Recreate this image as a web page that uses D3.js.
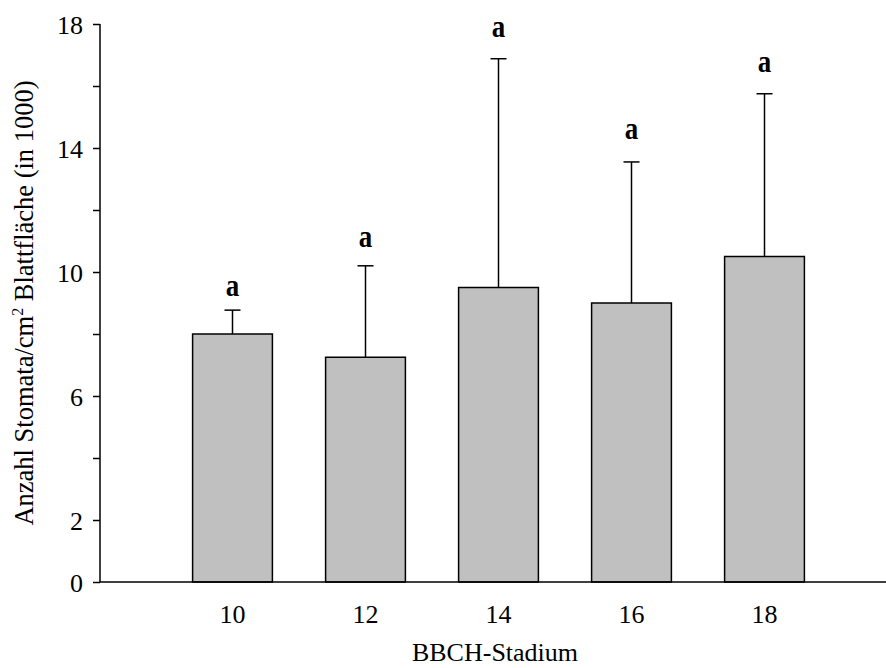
<!DOCTYPE html>
<html>
<head>
<meta charset="utf-8">
<script src="https://cdn.jsdelivr.net/npm/d3@7"></script>
<style>
  body { margin: 0; background: #fff; }
  text { font-family: "Liberation Serif", "Times New Roman", serif; fill: #000; }
</style>
</head>
<body>
<div id="plot"></div>
<script>
// BBCH stages and stomata counts (x1000 per cm2)
const stages = ["10", "12", "14", "16", "18"];
const means = [8.0, 7.25, 9.5, 9.0, 10.5];
const upperErr = [8.77, 10.2, 16.88, 13.55, 15.75];
const letters = ["a", "a", "a", "a", "a"];
const letterLevel = [9.22, 10.82, 17.57, 14.3, 16.45];
const yTicks = [0, 2, 4, 6, 8, 10, 12, 14, 16, 18];
const yLabeled = [0, 2, 6, 10, 14, 18];

const width = 886, height = 668;

const svg = d3.select("#plot").append("svg")
    .attr("width", width)
    .attr("height", height);

const y = d3.scaleLinear().domain([0, 18]).range([582, 24]);
const x = d3.scaleBand()
    .domain(stages)
    .range([166, 831])
    .paddingInner(0.4)
    .paddingOuter(0.2);

// bars
svg.append("g").selectAll("rect")
    .data(means)
    .join("rect")
    .attr("x", (d, i) => x(stages[i]))
    .attr("y", d => y(d))
    .attr("width", x.bandwidth())
    .attr("height", d => y(0) - y(d))
    .attr("fill", "#c0c0c0")
    .attr("stroke", "#000")
    .attr("stroke-width", 1.5);

// upper error whiskers
const err = svg.append("g").attr("stroke", "#000").attr("stroke-width", 1.5);
upperErr.forEach((e, i) => {
    const cx = x(stages[i]) + x.bandwidth() / 2;
    err.append("line")
        .attr("x1", cx).attr("x2", cx)
        .attr("y1", y(means[i])).attr("y2", y(e));
    err.append("line")
        .attr("x1", cx - 8).attr("x2", cx + 8)
        .attr("y1", y(e)).attr("y2", y(e));
});

// significance letters (slightly stretched vertically like the original)
svg.append("g").selectAll("text")
    .data(letters)
    .join("text")
    .attr("transform", (d, i) =>
        `translate(${x(stages[i]) + x.bandwidth() / 2},${y(letterLevel[i])}) scale(1,1.2)`)
    .attr("text-anchor", "middle")
    .attr("font-size", 27)
    .attr("font-weight", "bold")
    .text(d => d);

// y axis
const yAxis = svg.append("g")
    .attr("transform", "translate(100,0)")
    .call(d3.axisLeft(y)
        .tickValues(yTicks)
        .tickSize(7)
        .tickPadding(10)
        .tickFormat(d => yLabeled.includes(d) ? d : ""));
yAxis.select(".domain").remove();
yAxis.selectAll("line").attr("stroke", "#000").attr("stroke-width", 1.5);
yAxis.selectAll("text")
    .attr("font-size", 26)
    .attr("font-family", "Liberation Serif")
    .attr("dy", "0.36em");
yAxis.append("line")
    .attr("x1", 0).attr("x2", 0)
    .attr("y1", y(18)).attr("y2", y(0))
    .attr("stroke", "#000").attr("stroke-width", 1.5);

// x axis
svg.append("line")
    .attr("x1", 100).attr("x2", width)
    .attr("y1", y(0)).attr("y2", y(0))
    .attr("stroke", "#000").attr("stroke-width", 1.5);

svg.append("g").selectAll("text")
    .data(stages)
    .join("text")
    .attr("x", d => x(d) + x.bandwidth() / 2)
    .attr("y", 622.5)
    .attr("text-anchor", "middle")
    .attr("font-size", 26)
    .text(d => d);

// axis titles
svg.append("text")
    .attr("x", 495)
    .attr("y", 661)
    .attr("text-anchor", "middle")
    .attr("font-size", 26)
    .text("BBCH-Stadium");

const yTitle = svg.append("text")
    .attr("transform", "translate(33,303) rotate(-90)")
    .attr("text-anchor", "middle")
    .attr("font-size", 26.5);
yTitle.append("tspan").text("Anzahl Stomata/cm");
yTitle.append("tspan").attr("font-size", 16).attr("dy", -10).text("2");
yTitle.append("tspan").attr("dy", 10).text(" Blattfläche (in 1000)");
</script>
</body>
</html>
